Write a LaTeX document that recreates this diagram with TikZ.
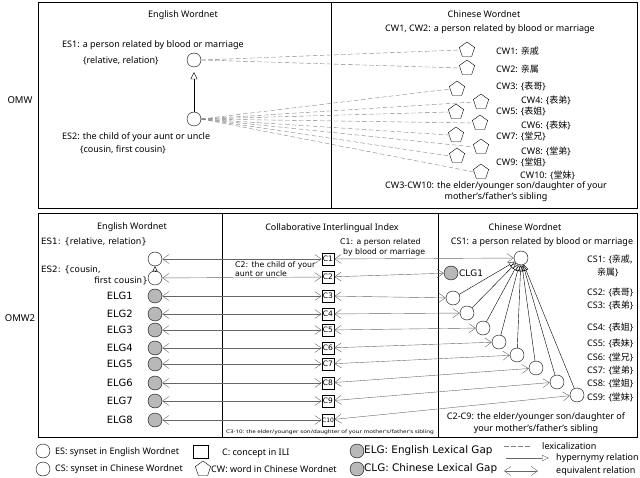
\documentclass[tikz,border=0pt]{standalone}
\usepackage{fontspec}
\setmainfont{Noto Sans}
\newfontfamily\dvs{DejaVu Sans}
\newfontfamily\cjk{Noto Sans CJK SC}
\usetikzlibrary{shapes.geometric,arrows.meta}
\tikzset{
  syn/.style={circle,draw,minimum size=14pt,inner sep=0pt,fill=white},
  gap/.style={syn,fill=black!28},
  word/.style={regular polygon,regular polygon sides=5,draw,minimum size=16pt,inner sep=0pt},
  concept/.style={rectangle,draw,thick,minimum width=12pt,minimum height=12pt,inner sep=0pt,font=\dvs\fontsize{7.5}{7.5}\selectfont},
  lex/.style={draw=black!50,dash pattern=on 4.5pt off 2.5pt},
  hyp/.style={-{Triangle[open,length=6pt,width=5pt]}},
  eq/.style={draw=black!60,{Straight Barb[length=6.5pt,width=9pt]}-{Straight Barb[length=6.5pt,width=9pt]}},
  t/.style={font=\fontsize{9}{10}\selectfont,inner sep=0pt},
  d/.style={font=\dvs\fontsize{8.7}{10}\selectfont,inner sep=0pt},
  ds/.style={font=\dvs\fontsize{7.8}{9}\selectfont,inner sep=0pt},
  dl/.style={font=\dvs\fontsize{10}{11}\selectfont,inner sep=0pt},
}
\begin{document}
\begin{tikzpicture}[x=1pt,y=-1pt]
\useasboundingbox (0,0) rectangle (640,478);
% ---------- top panel ----------
\draw (38,2) rectangle (637,208);
\draw (331,2) -- (331,208);
\node[t,font=\fontsize{9.5}{10}\selectfont] (omw) at (20,100) {OMW};
\node[t] (tEW) at (183,15) {English Wordnet};
\node[t,anchor=west] (es1t) at (62,45) {ES1: a person related by blood or marriage};
\node[t,anchor=west] (es1s) at (83,61) {\{relative, relation\}};
\node[syn] (ES1) at (194,60) {};
\node[syn] (ES2) at (194,119) {};
\node[t,anchor=west] (es2t) at (62,137) {ES2: the child of your aunt or uncle};
\node[t,anchor=west] (es2s) at (80,150) {\{cousin, first cousin\}};
\draw[-{Triangle[open,length=7pt,width=7pt]},shorten >=5pt] (ES2.north) -- (ES1.south);

\node[t] (tCW) at (484,14) {Chinese Wordnet};
\node[t] (cw12) at (490,29) {CW1, CW2: a person related by blood or marriage};
\foreach \n/\x/\y in {1/467/50,2/467/68,3/457/89,4/481/102,5/456/112,6/480/123,7/456/135,8/481/147,9/457/156,10/481/172}
  \node[word] (CW\n) at (\x,\y) {};
\node[t,anchor=west] (l1) at (496,51) {CW1: {\cjk 亲戚}};
\node[t,anchor=west] (l2) at (496,69) {CW2: {\cjk 亲属}};
\node[t,anchor=west] (l3) at (496,86) {CW3: \{{\cjk 表哥}\}};
\node[t,anchor=west] (l4) at (521,100) {CW4: \{{\cjk 表弟}\}};
\node[t,anchor=west] (l5) at (496,111) {CW5: \{{\cjk 表姐}\}};
\node[t,anchor=west] (l6) at (521,125) {CW6: \{{\cjk 表妹}\}};
\node[t,anchor=west] (l7) at (496,136) {CW7: \{{\cjk 堂兄}\}};
\node[t,anchor=west] (l8) at (521,151) {CW8: \{{\cjk 堂弟}\}};
\node[t,anchor=west] (l9) at (496,162) {CW9: \{{\cjk 堂姐}\}};
\node[t,anchor=west] (l10) at (520,175) {CW10: \{{\cjk 堂妹}\}};
\node[t] (cwd1) at (496,186) {CW3-CW10: the elder/younger son/daughter of your};
\node[t] (cwd2) at (496,197) {mother's/father's sibling};
\foreach \n in {1,2} \draw[lex] (ES1.east) -- (CW\n.west);
\foreach \n in {3,...,10} \draw[lex] (ES2.east) -- (CW\n.west);

% ---------- bottom panel ----------
\draw (38,213) rectangle (637,437);
\draw (222,213) -- (222,437);
\draw (438,213) -- (438,437);
\node[t,font=\fontsize{9.5}{10}\selectfont] (omw2) at (20,318) {OMW2};
\node[t] (tEW2) at (132,227) {English Wordnet};
\node[d,anchor=west] (bes1) at (41,242) {ES1: \{relative, relation\}};
\node[d,anchor=west] (bes2a) at (41,270) {ES2: \{cousin,};
\node[d,anchor=east] (bes2b) at (148,281) {first cousin\}};
\node[t,font=\bfseries\fontsize{9}{10}\selectfont] (tCILI) at (332,228) {Collaborative Interlingual Index};
\node[t] (tCW2) at (525,227) {Chinese Wordnet};

\foreach \n/\y in {1/259,2/277,3/296,4/314,5/330,6/348,7/364,8/383,9/401,10/420}
  \node[concept] (C\n) at (328,\y) {\ifnum\n=10 \fontsize{6}{6}\selectfont C10\else C\n\fi};
\node[syn] (L1) at (155,259) {};
\node[syn] (L2) at (155,278) {};
\foreach \n/\y in {1/296,2/314,3/330,4/348,5/364,6/383,7/401,8/420}
  {\node[gap] (ELG\n) at (155,\y) {};
   \node[dl,anchor=east] (ELGl\n) at (133,\y) {ELG\n};}
\draw[-{Triangle[open,length=5pt,width=5pt]}] (L2.north) -- (L1.south);

\node[ds,anchor=west] (c1a) at (340,242) {C1: a person related};
\node[ds,anchor=west] (c1b) at (343,252) {by blood or marriage};
\node[ds,anchor=west] (c2a) at (235,265) {C2: the child of your};
\node[ds,anchor=west] (c2b) at (235,274) {aunt or uncle};
\node[inner sep=0pt,font=\fontsize{4.8}{5}\selectfont] (c310) at (330,432) {\scalebox{1.28}[1]{C3-10: the elder/younger son/daughter of your mother's/father's sibling}};

\node[t] (cs1t) at (542,242) {CS1: a person related by blood or marriage};
\node[syn] (CS1) at (521,258) {};
\node[gap] (CLG1) at (451,273) {};
\node[dl,anchor=west,font=\dvs\fontsize{9}{10}\selectfont] (clgl) at (459,273) {CLG1};
\foreach \n/\x/\y in {2/453/298,3/467/313,4/483/328,5/499/342,6/517/355,7/536/368,8/557/382,9/577/395}
  \node[syn] (CS\n) at (\x,\y) {};
\node[t,anchor=west] (s1a) at (587,260) {CS1: \{{\cjk 亲戚,}};
\node[t,anchor=west] (s1b) at (597,272) {{\cjk 亲属}\}};
\node[t,anchor=west] (s2) at (587,292) {CS2: \{{\cjk 表哥}\}};
\node[t,anchor=west] (s3) at (587,305) {CS3: \{{\cjk 表弟}\}};
\node[t,anchor=west] (s4) at (587,327) {CS4: \{{\cjk 表姐}\}};
\node[t,anchor=west] (s5) at (587,343) {CS5: \{{\cjk 表妹}\}};
\node[t,anchor=west] (s6) at (587,357) {CS6: \{{\cjk 堂兄}\}};
\node[t,anchor=west] (s7) at (587,370) {CS7: \{{\cjk 堂弟}\}};
\node[t,anchor=west] (s8) at (587,383) {CS8: \{{\cjk 堂姐}\}};
\node[t,anchor=west] (s9) at (587,397) {CS9: \{{\cjk 堂妹}\}};
\node[t] (c29a) at (536,417) {C2-C9: the elder/younger son/daughter of};
\node[t] (c29b) at (536,429) {your mother's/father's sibling};

% equivalent relations
\draw[eq] (L1) -- (C1);
\draw[eq] (L2) -- (C2);
\foreach \n [evaluate=\n as \c using int(\n+2)] in {1,...,8} \draw[eq] (ELG\n) -- (C\c);
\draw[eq] (C1) -- (CS1);
\draw[eq] (C2) -- (CLG1);
\foreach \n [evaluate=\n as \c using int(\n+1)] in {2,...,9} \draw[eq] (C\c) -- (CS\n);
% hypernymy
\foreach \n in {2,...,9} \draw[hyp] (CS\n) -- (CS1);

% ---------- legend ----------
\node[syn] (lg1) at (43,451) {};
\node[t,anchor=west] (lg1t) at (55,452) {ES: synset in English Wordnet};
\node[syn] (lg2) at (43,469) {};
\node[t,anchor=west] (lg2t) at (55,469) {CS: synset in Chinese Wordnet};
\node[rectangle,draw,minimum width=15pt,minimum height=13pt,inner sep=0pt] (lg3) at (201,452) {};
\node[t,anchor=west] (lg3t) at (222,453) {C: concept in ILI};
\node[word] (lg4) at (203,469) {};
\node[t,anchor=west] (lg4t) at (211,469) {CW: word in Chinese Wordnet};
\node[gap] (lg5) at (357,451) {};
\node[anchor=west,inner sep=0pt,font=\dvs\fontsize{10.4}{11}\selectfont] (lg5t) at (364,451) {ELG: English Lexical Gap};
\node[gap] (lg6) at (357,469) {};
\node[anchor=west,inner sep=0pt,font=\dvs\fontsize{10.4}{11}\selectfont] (lg6t) at (364,469) {CLG: Chinese Lexical Gap};
\coordinate (a1) at (504,446); \coordinate (b1) at (532,446);
\coordinate (a2) at (506,458); \coordinate (b2) at (549,458);
\coordinate (a3) at (504,471); \coordinate (b3) at (538,471);
\draw[lex] (a1) -- (b1);
\draw[draw=black!60,-{Triangle[open,length=7pt,width=6pt]}] (a2) -- (b2);
\draw[eq] (a3) -- (b3);
\node[t,anchor=west] (lg7) at (542,446) {lexicalization};
\node[t,anchor=west] (lg8) at (556,458) {hypernymy relation};
\node[t,anchor=west] (lg9) at (556,471) {equivalent relation};
\end{tikzpicture}
\end{document}
